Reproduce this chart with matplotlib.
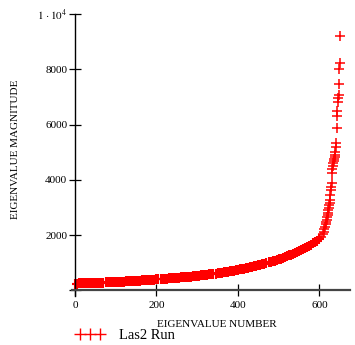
import numpy as np
import matplotlib
matplotlib.use("Agg")
import matplotlib.pyplot as plt
from matplotlib.lines import Line2D

plt.rcParams['font.family'] = ['Liberation Serif', 'DejaVu Serif']
plt.rcParams['mathtext.fontset'] = 'stix'

# eigenvalues, every 5th index from 0 to 600
main_idx = list(range(0, 601, 5))
main_vals = [250, 252, 255, 257, 260, 262, 265, 267, 270, 272, 275, 278, 281, 284, 287, 290, 293, 296, 300, 304, 308,
             312, 316, 320, 324, 328, 332, 336, 340, 344, 348, 352, 356, 361, 366, 371, 376, 381, 386, 392, 398,
             404, 410, 416, 422, 428, 434, 440, 446, 452, 458, 464, 470, 477, 484, 491, 498, 505, 512, 520, 528,
             536, 545, 554, 563, 572, 582, 592, 602, 612, 622, 633, 644, 655, 667, 679, 691, 704, 717, 731, 745,
             760, 775, 790, 806, 822, 839, 856, 874, 892, 911, 930, 950, 970, 991, 1013, 1035, 1058, 1082, 1106, 1130,
             1155, 1181, 1208, 1236, 1265, 1295, 1326, 1358, 1391, 1425, 1460, 1497, 1535, 1575, 1617, 1661, 1707, 1755, 1805, 1860]

# the steep tail, point by point
tail_idx = [605, 608, 610, 612, 614, 616, 617, 618, 619, 620, 621, 622, 623, 624, 625, 626, 627, 628, 629, 630,
            631, 632, 633, 634, 635, 636, 637, 638, 639, 640, 641, 642, 643, 644, 645, 646, 647, 648, 649, 650, 651]
tail_vals = [1950, 2050, 2130, 2220, 2310, 2400, 2480, 2560, 2640, 2720, 2800, 2900, 3000, 3090, 3180, 3270, 3450, 3635, 3760, 3877,
             4240, 4380, 4500, 4600, 4680, 4745, 4820, 4900, 5000, 5200, 5320, 5870, 6310, 6500, 6830, 6970, 7070, 7470, 8000, 8240, 9215]

xticks = [0, 200, 400, 600]
yticks = [0, 2000, 4000, 6000, 8000, 10000]
yticklabels = ['', '2000', '4000', '6000', '8000', r'$1\,\cdot10^{4}$']

W, H = 355, 345
fig = plt.figure(figsize=(W / 100, H / 100), dpi=100)
ax = fig.add_axes([71.7 / W, 1 - 296 / H, (350 - 71.7) / W, (296 - 14) / H])

# dense part drawn a little heavier so it reads as a solid band
ax.plot(main_idx, main_vals, linestyle='none', marker='+', color='red', markersize=7, markeredgewidth=1.5)
ax.plot(tail_idx, tail_vals, linestyle='none', marker='+', color='red', markersize=7.5, markeredgewidth=1.1)

ax.set_xlim(-8, 675)
ax.set_ylim(-200, 10000)

for s in ['top', 'right']:
    ax.spines[s].set_visible(False)
ax.spines['left'].set_position(('data', 0))
ax.spines['bottom'].set_position(('data', 0))
ax.spines['left'].set_linewidth(1.0)
ax.spines['bottom'].set_linewidth(1.6)
ax.spines['bottom'].set_color('#444444')

ax.set_xticks(xticks)
ax.set_yticks(yticks)
ax.set_yticklabels(yticklabels)
ax.tick_params(direction='inout', length=9, width=0.9, labelsize=8, pad=1)
ax.tick_params(axis='x', pad=3)

ax.set_xlabel('EIGENVALUE NUMBER', fontsize=8, labelpad=2)
ax.set_ylabel('EIGENVALUE MAGNITUDE', fontsize=8)
ax.yaxis.set_label_coords(-0.185, 0.52)
ax.xaxis.set_label_coords(0.52, -0.085)

handle = Line2D([], [], linestyle='none', marker='+', color='red', markersize=8, markeredgewidth=1.0)
fig.legend([handle], ['Las2 Run'], loc='center left', bbox_to_anchor=(68 / W, 1 - 335 / H),
           frameon=False, numpoints=3, handlelength=2.0, handletextpad=1.0, borderpad=0,
           fontsize=10.5)

fig.savefig('out.png', dpi=100)
